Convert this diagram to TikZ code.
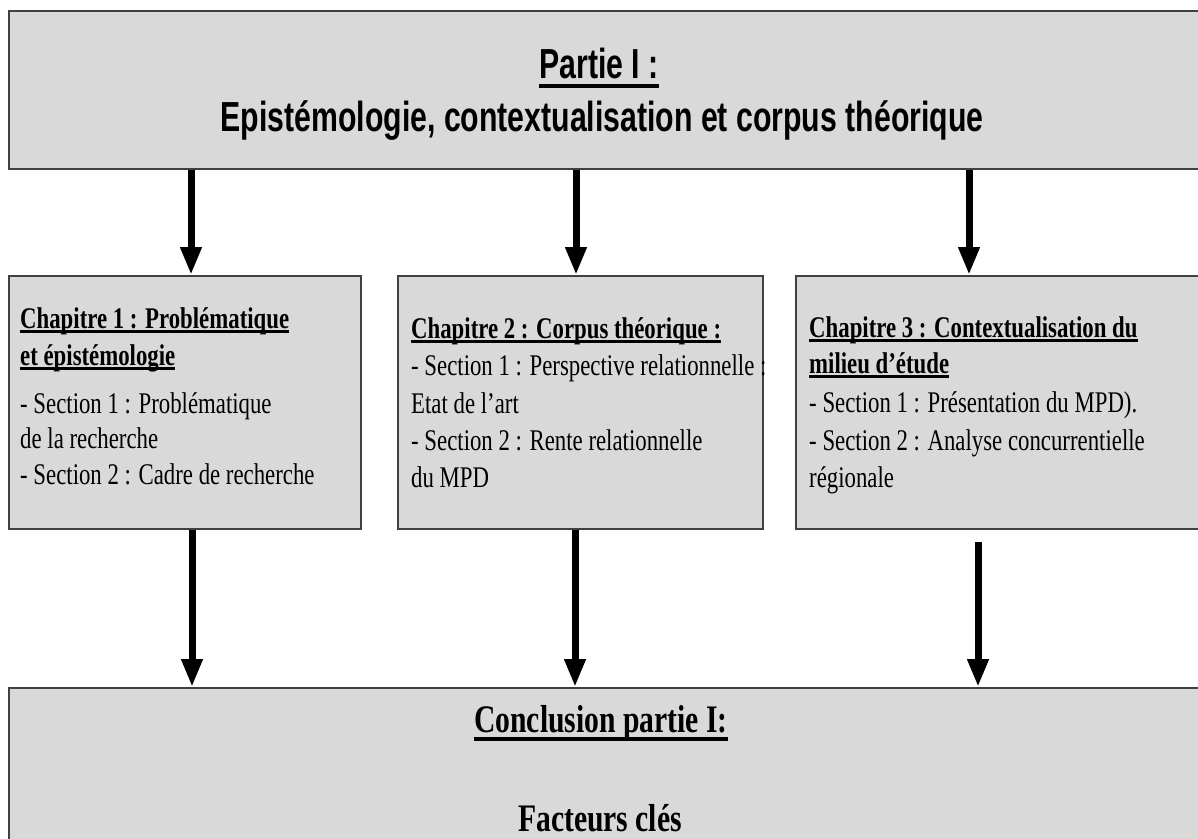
\documentclass[tikz,border=0pt]{standalone}
\usepackage{fontspec}
\usetikzlibrary{arrows.meta}
\newfontfamily\arl[FakeStretch=0.72]{Liberation Sans}
\newfontfamily\tms[FakeStretch=0.76]{Liberation Serif}
\definecolor{edgegray}{RGB}{64,64,64}
\definecolor{panelgray}{RGB}{217,217,217}
\newsavebox{\ulbox}
\newcommand{\myul}[3]{\sbox{\ulbox}{#3}\rlap{\rule[#1]{\wd\ulbox}{#2}}\usebox{\ulbox}}
\begin{document}
\begin{tikzpicture}[x=1pt,y=-1pt,
  panel/.style={draw=edgegray, line width=1.5pt, fill=panelgray, rectangle, inner sep=0pt, anchor=north west},
  conn/.style={line width=7pt, -{Triangle[width=20pt,length=28pt]}},
  txt/.style={inner sep=0pt, anchor=base west, font=\tms\fontsize{30}{36}\selectfont},
  head/.style={inner sep=0pt, anchor=base, font=\arl\bfseries\fontsize{42}{48}\selectfont},
  concl/.style={inner sep=0pt, anchor=base, font=\tms\bfseries\fontsize{39}{46}\selectfont}]
\useasboundingbox (0,0) rectangle (1198,838);
\clip (0,0) rectangle (1198,838);
% boxes
\node[panel, minimum width=1202pt, minimum height=158pt] (top) at (8,10) {};
\node[panel, minimum width=352pt, minimum height=253pt] (c1) at (8,275) {};
\node[panel, minimum width=365pt, minimum height=253pt] (c2) at (397,275) {};
\node[panel, minimum width=415pt, minimum height=253pt] (c3) at (795,275) {};
\node[panel, minimum width=1202pt, minimum height=170pt] (bot) at (8,687) {};
% title texts
\node[head] (t1) at (599,78) {\myul{-10pt}{4pt}{Partie I :}};
\node[head] (t2) at (602,131) {Epistémologie, contextualisation et corpus théorique};
% chapter 1
\node[txt] (a1) at (20,328) {\myul{-4.5pt}{3pt}{\bfseries Chapitre 1 : Problématique}};
\node[txt] (a2) at (20,365) {\myul{-4.5pt}{3pt}{\bfseries et épistémologie}};
\node[txt] (a3) at (20,413) {- Section 1 : Problématique};
\node[txt] (a4) at (20,448) {de la recherche};
\node[txt] (a5) at (20,484) {- Section 2 : Cadre de recherche};
% chapter 2
\node[txt] (b1) at (411,338) {\myul{-4.5pt}{3pt}{\bfseries Chapitre 2 : Corpus théorique :}};
\node[txt] (b2) at (411,375) {- Section 1 : Perspective relationnelle :};
\node[txt] (b3) at (411,413) {Etat de l’art};
\node[txt] (b4) at (411,450) {- Section 2 : Rente relationnelle};
\node[txt] (b5) at (411,487) {du MPD};
% chapter 3
\node[txt] (d1) at (809,337) {\myul{-4.5pt}{3pt}{\bfseries Chapitre 3 : Contextualisation du}};
\node[txt] (d2) at (809,373) {\myul{-4.5pt}{3pt}{\bfseries milieu d’étude}};
\node[txt] (d3) at (809,412) {- Section 1 : Présentation du MPD).};
\node[txt] (d4) at (809,450) {- Section 2 : Analyse concurrentielle};
\node[txt] (d5) at (809,487) {régionale};
% conclusion
\node[concl] (e1) at (601,732) {\myul{-8.7pt}{4pt}{Conclusion partie I:}};
\node[concl] (e2) at (600,831) {Facteurs clés};
% arrow columns
\coordinate (u1) at (191,0);
\coordinate (u2) at (576,0);
\coordinate (u3) at (969,0);
\coordinate (l1) at (192,0);
\coordinate (l2) at (575,0);
\coordinate (s3) at (978,542);
\draw[conn] (u1 |- top.south) -- (u1 |- c1.north);
\draw[conn] (u2 |- top.south) -- (u2 |- c2.north);
\draw[conn] (u3 |- top.south) -- (u3 |- c3.north);
\draw[conn] (l1 |- c1.south) -- (l1 |- bot.north);
\draw[conn] (l2 |- c2.south) -- (l2 |- bot.north);
\draw[conn] (s3) -- (s3 |- bot.north);
\end{tikzpicture}
\end{document}
